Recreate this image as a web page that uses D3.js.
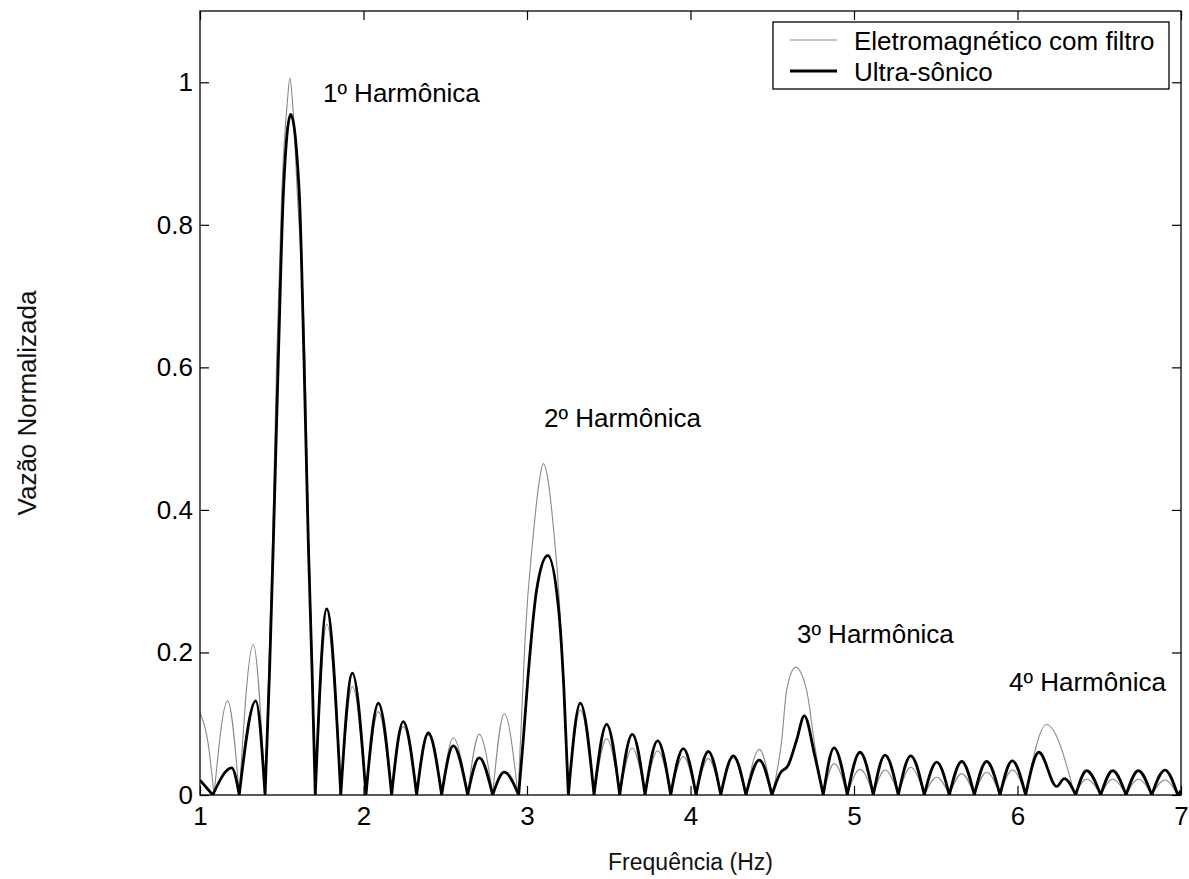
<!DOCTYPE html>
<html>
<head>
<meta charset="utf-8">
<script src="https://cdn.jsdelivr.net/npm/d3@7"></script>
<style>
  html, body { margin: 0; padding: 0; background: #fff; }
  svg { display: block; font-family: "Liberation Sans", Arial, sans-serif; }
</style>
</head>
<body>
<svg id="chart" width="1189" height="879"></svg>
<script>
// Spectrum of normalized flow: lobe zeros and peaks of each measurement
const freqEletro = [
  1.000, 1.048, 1.086, 1.169, 1.240, 1.326, 1.398, 1.420, 1.444, 1.469, 1.500, 1.535, 1.550, 1.565, 1.595, 1.642, 1.665, 1.688, 1.705,
  1.775, 1.861, 1.932, 2.015, 2.091, 2.172, 2.243, 2.325, 2.396, 2.478, 2.549, 2.637, 2.708, 2.790, 2.861, 2.945,
  2.965, 2.988, 3.039, 3.075, 3.100, 3.130, 3.165, 3.186, 3.226, 3.253,
  3.326, 3.410, 3.487, 3.567, 3.644, 3.722, 3.799, 3.879, 3.956, 4.034, 4.109, 4.185, 4.262, 4.339, 4.421, 4.498,
  4.558, 4.588, 4.643, 4.710, 4.761, 4.812,
  4.878, 4.959, 5.037, 5.118, 5.190, 5.271, 5.347, 5.430, 5.506, 5.583, 5.659, 5.736, 5.811, 5.893, 5.968, 6.050,
  6.178, 6.350, 6.423, 6.509, 6.582, 6.664, 6.739, 6.821, 6.902, 6.980, 7.000
];
const eletroFiltro = [
  0.115, 0.075, 0, 0.132, 0, 0.211, 0, 0.171, 0.358, 0.611, 0.845, 0.975, 1.006, 0.975, 0.845, 0.611, 0.358, 0.170, 0,
  0.240, 0, 0.152, 0, 0.117, 0, 0.096, 0, 0.084, 0, 0.080, 0, 0.085, 0, 0.114, 0,
  0.100, 0.218, 0.367, 0.440, 0.465, 0.440, 0.367, 0.311, 0.150, 0,
  0.119, 0, 0.079, 0, 0.066, 0, 0.062, 0, 0.054, 0, 0.051, 0, 0.052, 0, 0.064, 0,
  0.077, 0.147, 0.179, 0.147, 0.068, 0,
  0.044, 0, 0.036, 0, 0.035, 0, 0.039, 0, 0.025, 0, 0.030, 0, 0.032, 0, 0.035, 0,
  0.099, 0, 0.022, 0, 0.022, 0, 0.022, 0, 0.021, 0, 0.004
];

const freqUltra = [
  1.000, 1.078, 1.194, 1.240, 1.341, 1.398, 1.425, 1.449, 1.479, 1.510, 1.555, 1.607, 1.636, 1.662, 1.686, 1.705,
  1.775, 1.861, 1.932, 2.015, 2.091, 2.172, 2.243, 2.325, 2.396, 2.478, 2.549, 2.637, 2.708, 2.790, 2.861, 2.949,
  2.977, 3.008, 3.059, 3.127, 3.192, 3.226, 3.253,
  3.326, 3.410, 3.487, 3.567, 3.644, 3.722, 3.799, 3.879, 3.956, 4.034, 4.109, 4.185, 4.262, 4.339, 4.421, 4.498,
  4.547, 4.598, 4.649, 4.696, 4.761, 4.812,
  4.878, 4.959, 5.037, 5.118, 5.190, 5.271, 5.347, 5.430, 5.506, 5.583, 5.659, 5.736, 5.811, 5.893, 5.968, 6.050,
  6.131, 6.240, 6.286, 6.356, 6.423, 6.509, 6.582, 6.664, 6.739, 6.821, 6.902, 6.980, 7.000
];
const ultraSonico = [
  0.021, 0, 0.038, 0, 0.132, 0, 0.171, 0.358, 0.611, 0.845, 0.955, 0.845, 0.611, 0.358, 0.170, 0,
  0.261, 0, 0.171, 0, 0.129, 0, 0.103, 0, 0.087, 0, 0.069, 0, 0.052, 0, 0.032, 0,
  0.077, 0.171, 0.288, 0.336, 0.264, 0.147, 0,
  0.129, 0, 0.099, 0, 0.085, 0, 0.076, 0, 0.065, 0, 0.061, 0, 0.055, 0, 0.049, 0,
  0.030, 0.042, 0.077, 0.111, 0.054, 0,
  0.066, 0, 0.060, 0, 0.056, 0, 0.055, 0, 0.046, 0, 0.047, 0, 0.047, 0, 0.048, 0,
  0.060, 0.012, 0.023, 0, 0.034, 0, 0.034, 0, 0.034, 0, 0.035, 0, 0.006
];

const xTicks = [1, 2, 3, 4, 5, 6, 7];
const yTicks = [0, 0.2, 0.4, 0.6, 0.8, 1];
const seriesNames = ["Eletromagnético com filtro", "Ultra-sônico"];
const harmonicLabels = ["1º Harmônica", "2º Harmônica", "3º Harmônica", "4º Harmônica"];
const harmonicFreq = [1.752, 3.104, 4.651, 5.948];
const harmonicLevel = [0.973, 0.517, 0.2135, 0.146];

const svg = d3.select("#chart");
const margin = { left: 200, right: 8, top: 11, bottom: 84 };
const W = 1189, H = 879;
const x = d3.scaleLinear().domain([1, 7]).range([margin.left, W - margin.right]);
const y = d3.scaleLinear().domain([0, 1.1]).range([H - margin.bottom, margin.top]);

const FONT = 26;

svg.append("defs").append("clipPath").attr("id", "plotClip")
  .append("rect")
  .attr("x", x(1)).attr("y", y(1.1))
  .attr("width", x(7) - x(1)).attr("height", y(0) - y(1.1));

// Each lobe is its own smooth arch; the curve breaks into a cusp at every zero
function lobePath(fs, vs) {
  const pts = fs.map((f, i) => [f, vs[i]]);
  const segs = [];
  let cur = [];
  pts.forEach((p, i) => {
    cur.push(p);
    if (p[1] === 0 && i > 0 && i < pts.length - 1) {
      segs.push(cur);
      cur = [p];
    }
  });
  if (cur.length > 1) segs.push(cur);
  const line = d3.line().x(d => x(d[0])).y(d => y(d[1])).curve(d3.curveMonotoneX);
  return segs.map(s => line(s)).join("");
}

const plot = svg.append("g").attr("clip-path", "url(#plotClip)");

plot.append("path")
  .attr("d", lobePath(freqEletro, eletroFiltro))
  .attr("fill", "none")
  .attr("stroke", "#8a8a8a")
  .attr("stroke-width", 1.1)
  .attr("stroke-linejoin", "round");

plot.append("path")
  .attr("d", lobePath(freqUltra, ultraSonico))
  .attr("fill", "none")
  .attr("stroke", "#000")
  .attr("stroke-width", 2.8)
  .attr("stroke-linejoin", "round");

// Axes with inward ticks on all four sides
const tickLen = 9;
const gx = svg.append("g").attr("transform", `translate(0,${y(0)})`)
  .call(d3.axisBottom(x).tickValues(xTicks).tickFormat(d3.format("d"))
    .tickSizeInner(-tickLen).tickSizeOuter(0).tickPadding(12));
const gxTop = svg.append("g").attr("transform", `translate(0,${y(1.1)})`)
  .call(d3.axisTop(x).tickValues(xTicks).tickFormat("")
    .tickSizeInner(-tickLen).tickSizeOuter(0));
const gy = svg.append("g").attr("transform", `translate(${x(1)},0)`)
  .call(d3.axisLeft(y).tickValues(yTicks).tickFormat(d => d === 0 ? "0" : d3.format(".1f")(d).replace(/\.0$/, ""))
    .tickSizeInner(-tickLen).tickSizeOuter(0).tickPadding(7));
const gyRight = svg.append("g").attr("transform", `translate(${x(7)},0)`)
  .call(d3.axisRight(y).tickValues(yTicks).tickFormat("")
    .tickSizeInner(-tickLen).tickSizeOuter(0));

[gx, gxTop, gy, gyRight].forEach(g => {
  g.select(".domain").remove();
  g.selectAll("line").attr("stroke", "#000").attr("stroke-width", 1.2);
  g.selectAll("text").attr("font-size", FONT).attr("fill", "#000")
    .attr("font-family", "Liberation Sans, Arial, sans-serif");
});

// Plot frame
svg.append("rect")
  .attr("x", x(1)).attr("y", y(1.1))
  .attr("width", x(7) - x(1)).attr("height", y(0) - y(1.1))
  .attr("fill", "none").attr("stroke", "#000").attr("stroke-width", 1.3);

// Axis titles
svg.append("text")
  .attr("x", (x(1) + x(7)) / 2).attr("y", 870)
  .attr("text-anchor", "middle").attr("font-size", 23).attr("fill", "#111")
  .text("Frequência (Hz)");
svg.append("text")
  .attr("transform", `translate(36,${(y(0) + y(1.1)) / 2}) rotate(-90)`)
  .attr("text-anchor", "middle").attr("font-size", 26).attr("fill", "#111")
  .text("Vazão Normalizada");

// Harmonic annotations
svg.selectAll("text.harm").data(harmonicLabels).join("text")
  .attr("class", "harm")
  .attr("x", (d, i) => x(harmonicFreq[i]))
  .attr("y", (d, i) => y(harmonicLevel[i]))
  .attr("font-size", FONT).attr("fill", "#000")
  .text(d => d);

// Legend
const lg = svg.append("g");
lg.append("rect")
  .attr("x", 773).attr("y", 22).attr("width", 396).attr("height", 67)
  .attr("fill", "#fff").attr("stroke", "#000").attr("stroke-width", 1.3);
const legendStyles = [
  { stroke: "#8a8a8a", width: 1.1 },
  { stroke: "#000", width: 2.8 }
];
seriesNames.forEach((name, i) => {
  const cy = 40 + i * 31;
  lg.append("line")
    .attr("x1", 790).attr("x2", 837).attr("y1", cy).attr("y2", cy)
    .attr("stroke", legendStyles[i].stroke).attr("stroke-width", legendStyles[i].width);
  lg.append("text")
    .attr("x", 854).attr("y", cy + 9.5)
    .attr("font-size", FONT).attr("fill", "#000")
    .text(name);
});
</script>
</body>
</html>
